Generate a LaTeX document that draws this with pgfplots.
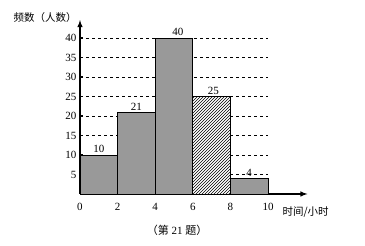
\documentclass[border=0pt]{standalone}
\usepackage{pgfplots}
\pgfplotsset{compat=1.18}
\usetikzlibrary{patterns}
\usepackage{fontspec}
\setmainfont{Liberation Serif}
\newfontfamily\cjk{Noto Sans CJK SC}
\definecolor{bargray}{RGB}{153,153,153}
\begin{document}
\begin{tikzpicture}
\path[use as bounding box,fill=white] (0pt,0pt) rectangle (365pt,246pt);
\begin{axis}[
  at={(80pt,52pt)}, anchor=origin,
  x=18.8pt, y=3.9pt,
  xmin=0, xmax=12.1, ymin=0, ymax=44.6,
  axis lines=left,
  axis line style={line width=1.4pt,-latex},
  xtick={0,2,4,6,8,10},
  ytick={5,10,15,20,25,30,35,40},
  xtick style={draw=none},
  ytick style={line width=1pt,black},
  ytick align=inside,
  major tick length=3pt,
  tick label style={font=\fontsize{11}{13}\selectfont},
  /pgf/number format/assume math mode=true,
  xticklabel style={yshift=-4pt},
  clip=false,
]
\pgfplotsinvokeforeach{5,10,15,20,25,30,35,40}{
  \addplot[black,dashed,line width=0.6pt,forget plot] coordinates {(0,#1) (10,#1)};
}
\addplot[fill=bargray,draw=black,line width=0.8pt] coordinates {(0,0) (0,10) (2,10) (2,0)} --cycle;
\addplot[fill=bargray,draw=black,line width=0.8pt] coordinates {(2,0) (2,21) (4,21) (4,0)} --cycle;
\addplot[fill=bargray,draw=black,line width=0.8pt] coordinates {(4,0) (4,40) (6,40) (6,0)} --cycle;
\addplot[fill=white,draw=none] coordinates {(6,0) (6,25) (8,25) (8,0)} --cycle;
\addplot[pattern=north east lines,draw=black,line width=0.8pt] coordinates {(6,0) (6,25) (8,25) (8,0)} --cycle;
\addplot[fill=bargray,draw=black,line width=0.8pt] coordinates {(8,0) (8,4) (10,4) (10,0)} --cycle;
\addplot[only marks, mark=none, nodes near coords, point meta=explicit symbolic,
  every node near coord/.style={font=\fontsize{11}{13}\selectfont,anchor=south,yshift=-1.5pt}]
  coordinates {(1,10) [10] (3,21) [21] (5.2,40) [40] (7.1,25) [25] (9,4) [4]};
\end{axis}
\node[font=\cjk\fontsize{10.5}{12}\selectfont,anchor=west] at (10pt,228pt) {频数（人数）};
\node[font=\cjk\fontsize{10.5}{12}\selectfont,anchor=west] at (279pt,34pt) {时间/小时};
\node[font=\fontsize{11}{13}\selectfont] at (177pt,16pt) {{\cjk （第} 21 {\cjk 题）}};
\end{tikzpicture}
\end{document}
